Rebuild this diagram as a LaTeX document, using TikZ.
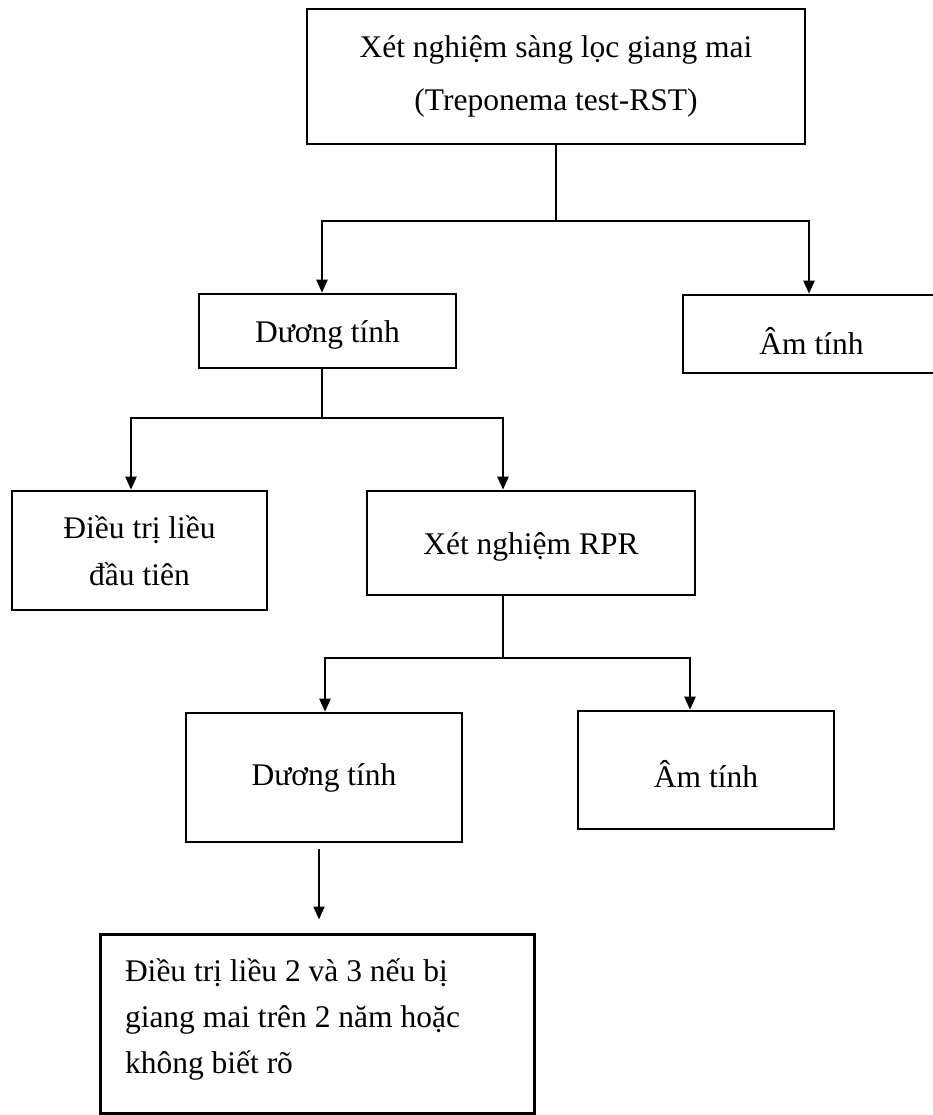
\documentclass[tikz,border=0pt]{standalone}
\usepackage{fontspec}
\setmainfont{Liberation Serif}
\usetikzlibrary{arrows.meta}
\newcommand{\lowertext}[2]{\raisebox{-#1}[\height][\depth]{#2}}
\begin{document}
\begin{tikzpicture}[x=1pt,y=-1pt,
  box/.style={draw, line width=2.6pt, inner sep=0pt, align=center, font=\fontsize{31.5}{47}\selectfont},
  conn/.style={line width=2.2pt},
  arr/.style={conn, -{Triangle[length=13pt,width=11pt]}}]
\useasboundingbox (0,0) rectangle (933,1115);
\node[box, minimum width=498pt, minimum height=135pt, font=\fontsize{31.5}{53}\selectfont] (b1) at (556,76.5) {Xét nghiệm sàng lọc giang mai\\(Treponema test-RST)};
\node[box, minimum width=257pt, minimum height=74pt] (dt1) at (327.5,331) {\lowertext{4pt}{Dương tính}};
\node[box, minimum width=257pt, minimum height=78pt] (am1) at (811.5,334) {\lowertext{7pt}{Âm tính}};
\node[box, minimum width=255pt, minimum height=119pt] (dtr) at (139.5,550.5) {Điều trị liều\\đầu tiên};
\node[box, minimum width=328pt, minimum height=104pt] (rpr) at (531,543) {\lowertext{4pt}{Xét nghiệm RPR}};
\node[box, minimum width=276pt, minimum height=129pt] (dt2) at (324,777.5) {Dương tính};
\node[box, minimum width=256pt, minimum height=118pt] (am2) at (706,770) {\lowertext{4pt}{Âm tính}};
\node[box, line width=3pt, minimum width=434pt, minimum height=179pt, align=flush left, text width=384pt, font=\fontsize{31.5}{46}\selectfont] (fin) at (317,1023.5) {Điều trị liều 2 và 3 nếu bị\\giang mai trên 2 năm hoặc\\không biết rõ\\[-31pt]\mbox{}};
\coordinate (j1) at (556,221);
\coordinate (j2) at (322,418);
\coordinate (j3) at (503,658);
\coordinate (s4) at (319,849);
\draw[conn] (b1.south) -- (j1);
\draw[arr] (j1) -| ([xshift=-5.5pt]dt1.north);
\draw[arr] (j1) -| ([xshift=-2.5pt]am1.north);
\draw[conn] (dt1.south -| j2) -- (j2);
\draw[arr] (j2) -| ([xshift=-8.5pt]dtr.north);
\draw[arr] (j2) -| ([xshift=-28pt]rpr.north);
\draw[conn] (rpr.south -| j3) -- (j3);
\draw[arr] (j3) -| ([xshift=1pt]dt2.north);
\draw[arr] (j3) -| ([xshift=-16pt]am2.north);
\draw[arr, shorten >=13pt] (s4) -- ([xshift=2pt]fin.north);
\end{tikzpicture}
\end{document}
